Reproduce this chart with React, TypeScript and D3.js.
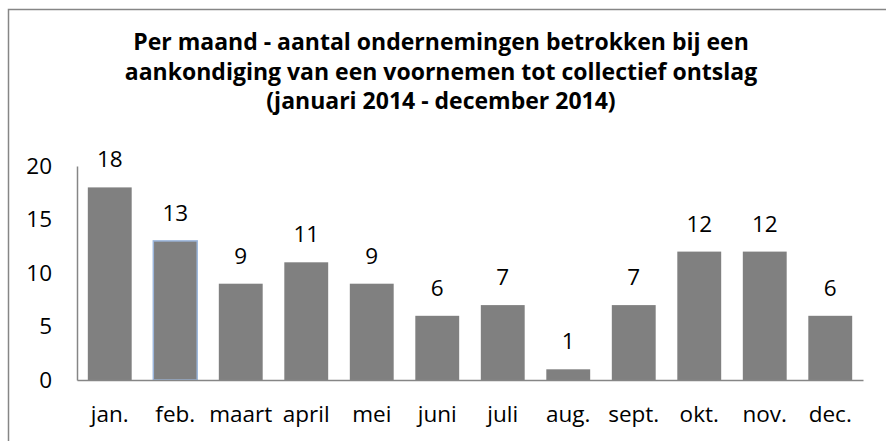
import React, { useEffect, useRef } from 'react';
import * as d3 from 'd3';

const MONTHS = ['jan.', 'feb.', 'maart', 'april', 'mei', 'juni', 'juli', 'aug.', 'sept.', 'okt.', 'nov.', 'dec.'];
const COUNTS = [18, 13, 9, 11, 9, 6, 7, 1, 7, 12, 12, 6];
const Y_TICKS = [0, 5, 10, 15, 20];
const TITLE_LINES = [
    'Per maand - aantal ondernemingen betrokken bij een',
    'aankondiging van een voornemen tot collectief ontslag',
    '(januari 2014 - december 2014)',
];

const WIDTH = 886;
const HEIGHT = 441;
const FONT = '"Open Sans", "Noto Sans", sans-serif';
const LABEL_SIZE = 22.5;

export default function App() {
    const svgRef = useRef<SVGSVGElement | null>(null);

    useEffect(() => {
        document.body.style.margin = '0';
        const svg = d3.select(svgRef.current);
        svg.selectAll('*').remove();

        const plot = { left: 77, right: 863, top: 166, bottom: 380 };

        // outer chart border (cropped on right/bottom in the reference)
        svg.append('rect')
            .attr('x', 8.5).attr('y', 9.5)
            .attr('width', WIDTH).attr('height', HEIGHT)
            .attr('fill', 'white')
            .attr('stroke', '#868686')
            .attr('stroke-width', 1.5);

        // title
        const title = svg.append('text')
            .attr('text-anchor', 'middle')
            .attr('font-family', FONT)
            .attr('font-weight', 700)
            .attr('font-size', 23)
            .attr('fill', '#000');
        TITLE_LINES.forEach((line, i) => {
            title.append('tspan')
                .attr('x', 441)
                .attr('y', 50 + i * 29.5)
                .text(line);
        });

        const x = d3.scaleBand<string>()
            .domain(MONTHS)
            .range([plot.left, plot.right])
            .paddingInner(0.33)
            .paddingOuter(0.165);

        const y = d3.scaleLinear()
            .domain([0, 20])
            .range([plot.bottom, plot.top]);

        // bars
        svg.append('g')
            .selectAll('rect')
            .data(COUNTS)
            .join('rect')
            .attr('x', (d, i) => x(MONTHS[i])!)
            .attr('y', d => y(d))
            .attr('width', x.bandwidth())
            .attr('height', d => y(0) - y(d))
            .attr('fill', '#808080')
            .attr('stroke', (d, i) => i === 1 ? '#9bb6dc' : 'none')
            .attr('stroke-width', 1.5);

        // data labels
        svg.append('g')
            .selectAll('text')
            .data(COUNTS)
            .join('text')
            .attr('x', (d, i) => x(MONTHS[i])! + x.bandwidth() / 2)
            .attr('y', d => y(d) - 20)
            .attr('text-anchor', 'middle')
            .attr('font-family', FONT)
            .attr('font-size', LABEL_SIZE)
            .attr('fill', '#000')
            .text(d => d);

        // y axis
        const yAxis = svg.append('g')
            .attr('transform', `translate(${plot.left},0)`)
            .call(d3.axisLeft(y).tickValues(Y_TICKS).tickSize(0).tickPadding(25));
        yAxis.select('.domain').attr('stroke', '#868686').attr('stroke-width', 1.5);
        yAxis.selectAll('text')
            .attr('font-family', FONT)
            .attr('font-size', LABEL_SIZE)
            .attr('fill', '#000');

        // x axis
        const xAxis = svg.append('g')
            .attr('transform', `translate(0,${plot.bottom})`)
            .call(d3.axisBottom(x).tickSize(0).tickPadding(26));
        xAxis.select('.domain').attr('stroke', '#868686').attr('stroke-width', 1.5);
        xAxis.selectAll('text')
            .attr('font-family', FONT)
            .attr('font-size', LABEL_SIZE)
            .attr('fill', '#000');
    }, []);

    return <svg ref={svgRef} width={WIDTH} height={HEIGHT} style={{ display: 'block', background: 'white' }} />;
}
